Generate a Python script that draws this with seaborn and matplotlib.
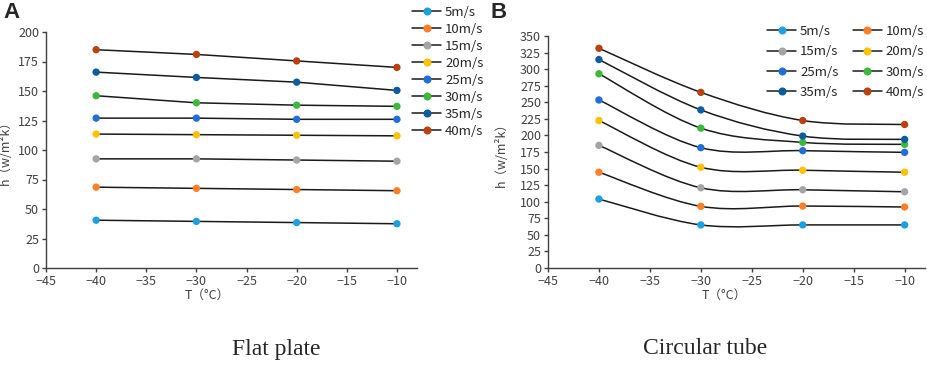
import matplotlib
matplotlib.use("Agg")
import matplotlib.pyplot as plt
from matplotlib.path import Path
from matplotlib.patches import PathPatch
from matplotlib.lines import Line2D
import seaborn as sns
import numpy as np
import pandas as pd

sns.set_style("white")
plt.rcParams['font.family'] = ['Noto Sans CJK JP', 'DejaVu Sans']

# data ########################################################################
temps = [-40, -30, -20, -10]
speeds = ["5m/s", "10m/s", "15m/s", "20m/s", "25m/s", "30m/s", "35m/s", "40m/s"]
colors = ["#1ba1e2", "#ff7f27", "#a5a5a5", "#ffc000",
          "#1f6fd6", "#3cb83a", "#0b5ca0", "#b8410e"]

flat_5 = [40.5, 39.5, 38.5, 37.5]
flat_10 = [68.5, 67.5, 66.5, 65.5]
flat_15 = [92.5, 92.5, 91.5, 90.5]
flat_20 = [113.5, 113, 112.5, 112]
flat_25 = [127, 127, 126, 126]
flat_30 = [146, 140, 138, 137]
flat_35 = [166, 161.5, 157.5, 150.5]
flat_40 = [185, 181, 175.5, 170]

tube_5 = [104, 65, 65, 65]
tube_10 = [144.5, 93, 93.5, 92]
tube_15 = [185, 121, 118, 115]
tube_20 = [222.5, 152, 147.5, 144.5]
tube_25 = [253.5, 181.5, 177, 174.5]
tube_30 = [293, 211, 189.5, 186.5]
tube_35 = [314.5, 238.5, 199, 194]
tube_40 = [331.5, 265, 222.5, 216.5]

flat = [flat_5, flat_10, flat_15, flat_20, flat_25, flat_30, flat_35, flat_40]
tube = [tube_5, tube_10, tube_15, tube_20, tube_25, tube_30, tube_35, tube_40]

xticks = [-45, -40, -35, -30, -25, -20, -15, -10]
ylabel = "h（w/m²k）"
xlabel = "T（°C）"

W, H = 927, 365
AX = "#404040"


def to_df(series):
    rows = []
    for name, vals in zip(speeds, series):
        for t, v in zip(temps, vals):
            rows.append({"T": t, "h": v, "speed": name})
    return pd.DataFrame(rows)


def smooth_path(x, y):
    # Excel style smoothed line: cubic bezier, tangents from neighbours
    pts = np.column_stack([x, y]).astype(float)
    ext = np.vstack([pts[0], pts, pts[-1]])
    verts = [pts[0]]
    codes = [Path.MOVETO]
    for i in range(len(pts) - 1):
        p0, p1, p2, p3 = ext[i], ext[i + 1], ext[i + 2], ext[i + 3]
        verts += [p1 + (p2 - p0) / 6, p2 - (p3 - p1) / 6, p2]
        codes += [Path.CURVE4] * 3
    return Path(verts, codes)


def style_axes(ax, ymax, ystep):
    ax.set_xlim(-45, -8)
    ax.set_ylim(0, ymax)
    ax.set_xticks(xticks)
    ax.set_yticks(np.arange(0, ymax + 1, ystep))
    for s in ["top", "right"]:
        ax.spines[s].set_visible(False)
    for s in ["left", "bottom"]:
        ax.spines[s].set_color(AX)
        ax.spines[s].set_linewidth(1.0)
    ax.tick_params(direction="out", length=3, width=1, color=AX,
                   labelsize=9, labelcolor="#404040", pad=2)
    ax.tick_params(axis="x", bottom=True)
    ax.tick_params(axis="y", left=True)
    ax.set_xlabel(xlabel, fontsize=9, color="#404040", labelpad=0)
    ax.set_ylabel(ylabel, fontsize=9, color="#404040")


def box(l, t, r, b):
    return [l / W, 1 - b / H, (r - l) / W, (b - t) / H]


fig = plt.figure(figsize=(W / 100, H / 100), dpi=100)

# flat plate ##################################################################
axA = fig.add_axes(box(46, 32, 417, 268))
dfA = to_df(flat)
for name in speeds:
    sub = dfA[dfA.speed == name]
    sns.lineplot(x="T", y="h", data=sub, ax=axA, color="#1a1a1a", lw=1.1,
                 legend=False, zorder=2)
sns.scatterplot(x="T", y="h", hue="speed", data=dfA, palette=colors, ax=axA,
                s=28, edgecolor="none", legend=False, zorder=3)
style_axes(axA, 200, 25)
axA.xaxis.set_label_coords(0.434, -0.088)
axA.yaxis.set_label_coords(-0.092, 0.5)

# circular tube ###############################################################
axB = fig.add_axes(box(548, 36, 925, 268))
dfB = to_df(tube)
for name, c in zip(speeds, colors):
    sub = dfB[dfB.speed == name]
    axB.add_patch(PathPatch(smooth_path(sub["T"].values, sub["h"].values),
                            facecolor="none", edgecolor="#1a1a1a", lw=1.1,
                            zorder=2))
sns.scatterplot(x="T", y="h", hue="speed", data=dfB, palette=colors, ax=axB,
                s=28, edgecolor="none", legend=False, zorder=3)
style_axes(axB, 350, 25)
axB.xaxis.set_label_coords(0.467, -0.09)
axB.yaxis.set_label_coords(-0.106, 0.5)

# legends #####################################################################
handles = [Line2D([0], [0], color="#1a1a1a", lw=1.1, marker="o",
                  markersize=4.8, markerfacecolor=c, markeredgecolor=c)
           for c in colors]
fig.legend(handles, speeds, loc="upper left",
           bbox_to_anchor=(412 / W, 1 - 6 / H), frameon=False, fontsize=9.5,
           handlelength=2.2, handletextpad=0.3, labelspacing=0.3,
           borderpad=0, borderaxespad=0)
# two columns filled row by row
order = [0, 2, 4, 6, 1, 3, 5, 7]
fig.legend([handles[i] for i in order], [speeds[i] for i in order],
           loc="upper left", ncol=2,
           bbox_to_anchor=(767 / W, 1 - 25 / H), frameon=False, fontsize=9.5,
           handlelength=2.2, handletextpad=0.3, labelspacing=0.55,
           columnspacing=1.1, borderpad=0, borderaxespad=0)

# panel letters and captions ##################################################
fig.text(3 / W, 1 - 2 / H, "A", fontsize=16, fontweight="bold", va="top",
         family="Liberation Sans")
fig.text(491 / W, 1 - 2 / H, "B", fontsize=16, fontweight="bold", va="top",
         family="Liberation Sans")
fig.text(276 / W, 1 - 349 / H, "Flat plate", fontsize=17, ha="center",
         va="center", family="Liberation Serif")
fig.text(705 / W, 1 - 349 / H, "Circular tube", fontsize=17, ha="center",
         va="center", family="Liberation Serif")

fig.savefig("out.png", dpi=100)
